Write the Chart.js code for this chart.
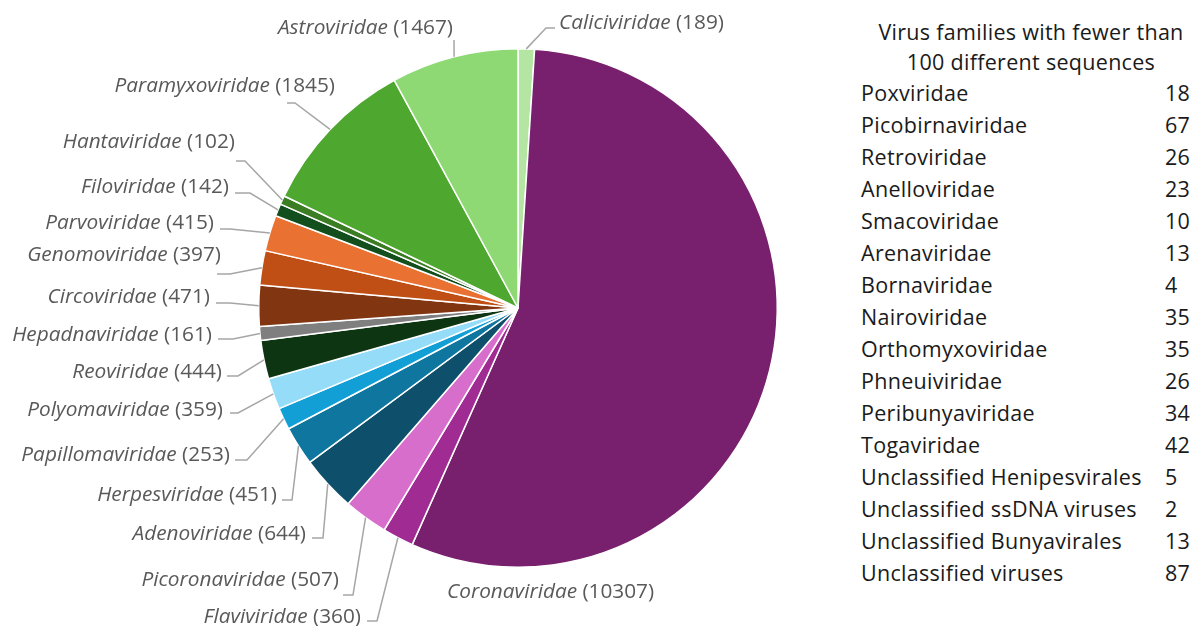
<!DOCTYPE html>
<html>
<head>
<meta charset="utf-8">
<script src="https://cdn.jsdelivr.net/npm/chart.js@4/dist/chart.umd.min.js"></script>
<style>
  html, body { margin: 0; padding: 0; background: #fff; }
  #wrap { position: relative; width: 1203px; height: 626px; overflow: hidden; }
  #pie { position: absolute; left: 0; top: 0; }
  #small { position: absolute; left: 861px; top: 17px; width: 340px; font-family: "Open Sans", sans-serif; font-size: 21.5px; letter-spacing: 0.3px; color: #1a1a1a; }
  #small .title { text-align: center; line-height: 30px; white-space: nowrap; }
  #small .row { position: relative; height: 32px; line-height: 32px; white-space: nowrap; }
  #small .row span.v { position: absolute; left: 304px; }
</style>
</head>
<body>
<div id="wrap">
  <canvas id="pie" width="840" height="626"></canvas>
  <div id="small">
    <div class="title">Virus families with fewer than<br>100 different sequences</div>
    <div id="rows"></div>
  </div>
</div>
<script>
"use strict";

// families shown as slices, clockwise from 12 o'clock
let families = ["Caliciviridae", "Coronaviridae", "Flaviviridae", "Picoronaviridae", "Adenoviridae",
    "Herpesviridae", "Papillomaviridae", "Polyomaviridae", "Reoviridae", "Hepadnaviridae",
    "Circoviridae", "Genomoviridae", "Parvoviridae", "Filoviridae", "Hantaviridae",
    "Paramyxoviridae", "Astroviridae"];
let sequenceCounts = [189, 10307, 360, 507, 644, 451, 253, 359, 444, 161, 471, 397, 415, 142, 102, 1845, 1467];

// families that were too small for the pie
let smallFamilies = ["Poxviridae", "Picobirnaviridae", "Retroviridae", "Anelloviridae", "Smacoviridae",
    "Arenaviridae", "Bornaviridae", "Nairoviridae", "Orthomyxoviridae", "Phneuiviridae",
    "Peribunyaviridae", "Togaviridae", "Unclassified Henipesvirales", "Unclassified ssDNA viruses",
    "Unclassified Bunyavirales", "Unclassified viruses"];
let smallCounts = [18, 67, 26, 23, 10, 13, 4, 35, 35, 26, 34, 42, 5, 2, 13, 87];

let sliceColors = ["#b4e5a2", "#78206e", "#a02b93", "#d86ecc", "#0e4f6b", "#0f76a0", "#129fd6",
    "#94dcf8", "#0e3512", "#7f7f7f", "#813510", "#c04f15", "#e97132", "#124f1c", "#3a7d22",
    "#4ea72e", "#8ed973"];

// where each label sits, as offsets from the pie centre
// t = text anchor, s = end of the short stub next to the text, k = knee of the leader
let labelSpots = [
    { tx: 41, ty: -285, align: "left", sx: 37, kx: 28, ky: -280 },
    { tx: -71, ty: 284, align: "left", sx: null },
    { tx: -157, ty: 309, align: "right", sx: -151, kx: -141, ky: 313 },
    { tx: -179, ty: 272, align: "right", sx: -175, kx: -165, ky: 287 },
    { tx: -212, ty: 226, align: "right", sx: -206, kx: -195, ky: 230 },
    { tx: -241, ty: 187, align: "right", sx: -236, kx: -226, ky: 192 },
    { tx: -288, ty: 147, align: "right", sx: -283, kx: -271, ky: 152 },
    { tx: -295, ty: 102, align: "right", sx: -288, kx: -280, ky: 105 },
    { tx: -296, ty: 64, align: "right", sx: -291, kx: -280, ky: 68 },
    { tx: -306, ty: 27, align: "right", sx: -300, kx: -285, ky: 31 },
    { tx: -308, ty: -11, align: "right", sx: -302, kx: -288, ky: -5 },
    { tx: -297, ty: -53, align: "right", sx: -301, kx: -288, ky: -34 },
    { tx: -304, ty: -85, align: "right", sx: -298, kx: -288, ky: -79 },
    { tx: -289, ty: -121, align: "right", sx: -283, kx: -268, ky: -115 },
    { tx: -283, ty: -166, align: "right", sx: -282, kx: -273, ky: -147 },
    { tx: -183, ty: -222, align: "right", sx: -231, kx: -223, ky: -205 },
    { tx: -65, ty: -280, align: "right", sx: -64, kx: -64, ky: -268 }
];

let labelFont = "Open Sans";
let labelSize = 20.8;

// draws "Name (count)" with the name in italics, plus the grey leader line
const sliceLabels = {
    id: "sliceLabels",
    afterDatasetsDraw(chart) {
        const ctx = chart.ctx;
        const meta = chart.getDatasetMeta(0);
        meta.data.forEach((arc, i) => {
            const spot = labelSpots[i];
            const cx = arc.x;
            const cy = arc.y;
            const mid = (arc.startAngle + arc.endAngle) / 2;
            const ex = cx + Math.cos(mid) * arc.outerRadius;
            const ey = cy + Math.sin(mid) * arc.outerRadius;

            ctx.save();
            if (spot.sx !== null) {
                ctx.strokeStyle = "#a6a6a6";
                ctx.lineWidth = 1.5;
                ctx.beginPath();
                ctx.moveTo(ex, ey);
                ctx.lineTo(cx + spot.kx, cy + spot.ky);
                ctx.lineTo(cx + spot.sx, cy + spot.ky);
                ctx.stroke();
            }

            const name = families[i];
            const count = " (" + sequenceCounts[i] + ")";
            const italic = "italic " + labelSize + "px '" + labelFont + "'";
            const upright = labelSize + "px '" + labelFont + "'";
            ctx.font = italic;
            const w1 = ctx.measureText(name).width;
            ctx.font = upright;
            const w2 = ctx.measureText(count).width;
            let x = cx + spot.tx;
            if (spot.align === "right") x -= w1 + w2;
            const y = cy + spot.ty;
            ctx.fillStyle = "#595959";
            ctx.textBaseline = "middle";
            ctx.textAlign = "left";
            ctx.font = italic;
            ctx.fillText(name, x, y);
            ctx.font = upright;
            ctx.fillText(count, x + w1, y);
            ctx.restore();
        });
    }
};

new Chart(document.getElementById("pie"), {
    type: "pie",
    data: {
        labels: families,
        datasets: [{
            data: sequenceCounts,
            backgroundColor: sliceColors,
            borderColor: "#ffffff",
            borderWidth: 1.5,
            hoverOffset: 0
        }]
    },
    options: {
        responsive: false,
        animation: false,
        layout: { padding: { left: 258, right: 62, top: 48, bottom: 58 } },
        plugins: {
            legend: { display: false },
            tooltip: { enabled: false }
        }
    },
    plugins: [sliceLabels]
});

// the table of small families
let rowsEl = document.getElementById("rows");
smallFamilies.forEach((name, i) => {
    let row = document.createElement("div");
    row.className = "row";
    row.innerHTML = `<span>${name}</span><span class="v">${smallCounts[i]}</span>`;
    rowsEl.appendChild(row);
});
</script>
</body>
</html>
